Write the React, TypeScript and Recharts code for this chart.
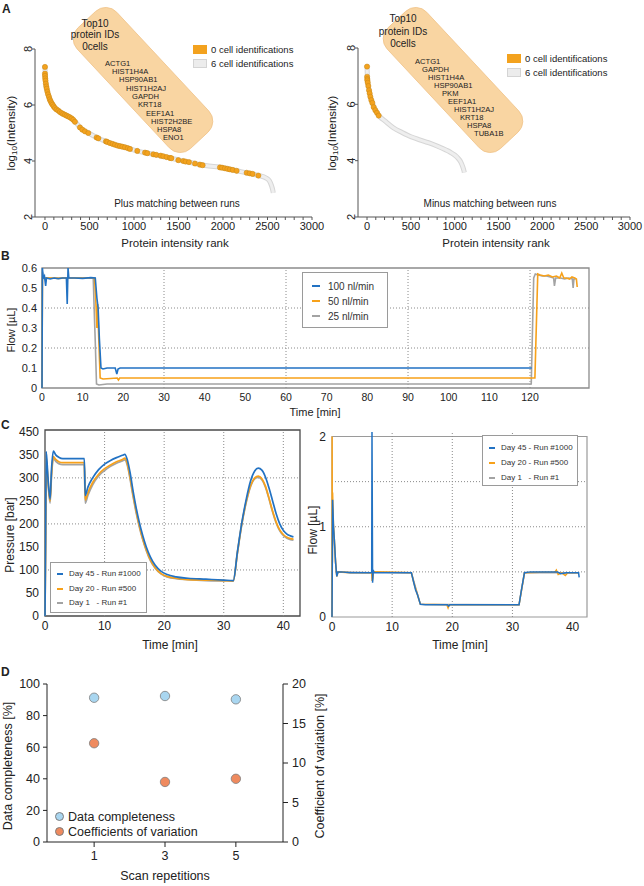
import React from "react";
import {
  ComposedChart,
  Line,
  Scatter,
  XAxis,
  YAxis,
  ReferenceLine,
  ReferenceArea,
  Legend,
} from "recharts";

const FONT = "'Liberation Sans', Arial, Helvetica, sans-serif";
const BLUE = "#2272c3";
const ORANGE = "#f7a11a";
const GREY = "#a3a3a3";
const SPOT = "#f3a21e";
const INK = "#222";

// ---- A: protein intensity rank ----
const rankTicks = [0, 500, 1000, 1500, 2000, 2500, 3000];
const rankMinorTicks = Array.from({ length: 31 }, (_, i) => i * 100);
const logTicks = [2, 4, 6, 8];
const legendA = ["0 cell identifications", "6 cell identifications"];

const plusCurve = [
  [0, 7.4], [3, 7.05], [10, 6.77], [30, 6.45], [60, 6.16], [100, 5.95], [150, 5.8],
  [200, 5.69], [260, 5.6], [300, 5.52], [340, 5.4], [400, 5.18], [490, 5.0], [580, 4.84],
  [700, 4.68], [800, 4.57], [900, 4.49], [1000, 4.39], [1200, 4.25], [1400, 4.11],
  [1600, 3.97], [1800, 3.84], [2000, 3.76], [2200, 3.62], [2400, 3.48], [2480, 3.4],
  [2520, 3.3], [2545, 3.12], [2560, 2.95], [2565, 2.86],
];
const plusDots = [
  [0, 7.36], [0, 7.12], [1, 7.04], [3, 6.95], [6, 6.87], [10, 6.76], [15, 6.66], [20, 6.58],
  [27, 6.48], [35, 6.38], [45, 6.29], [54, 6.2], [64, 6.13], [75, 6.06], [86, 6.01], [98, 5.95],
  [112, 5.89], [130, 5.84], [150, 5.8], [168, 5.75], [187, 5.71], [205, 5.68], [225, 5.65],
  [243, 5.62], [262, 5.59], [280, 5.56], [300, 5.52], [318, 5.47], [337, 5.4], [393, 5.2],
  [420, 5.12], [449, 5.06], [487, 5.0], [580, 4.84], [600, 4.81], [685, 4.7], [700, 4.68],
  [730, 4.64], [760, 4.61], [787, 4.58], [815, 4.55], [843, 4.53], [870, 4.51], [899, 4.49],
  [930, 4.46], [955, 4.43], [1037, 4.36], [1124, 4.3], [1150, 4.28], [1217, 4.24], [1250, 4.22],
  [1300, 4.19], [1330, 4.17], [1367, 4.14], [1404, 4.11], [1420, 4.1], [1498, 4.03], [1554, 4.0],
  [1580, 3.98], [1618, 3.96], [1685, 3.91], [1741, 3.87], [1771, 3.85], [1966, 3.77], [1990, 3.76],
  [2022, 3.74], [2050, 3.72], [2078, 3.7], [2110, 3.68], [2153, 3.65], [2266, 3.58], [2300, 3.56],
  [2333, 3.54], [2397, 3.48],
];
const minusCurve = [
  [0, 7.4], [5, 6.9], [20, 6.55], [50, 6.15], [100, 5.78], [150, 5.55], [200, 5.42], [300, 5.17],
  [400, 5.0], [500, 4.85], [600, 4.74], [700, 4.64], [800, 4.52], [900, 4.38], [950, 4.3],
  [1000, 4.2], [1040, 4.08], [1070, 3.95], [1090, 3.8], [1105, 3.65], [1110, 3.58],
];
const minusDots = [
  [0, 7.34], [1, 6.98], [3, 6.9], [4, 6.85], [8, 6.77], [15, 6.65], [23, 6.5], [30, 6.39],
  [38, 6.27], [49, 6.15], [61, 6.05], [76, 5.9], [95, 5.79], [114, 5.7], [133, 5.6],
];
const plusGenes = ["ACTG1", "HIST1H4A", "HSP90AB1", "HIST1H2AJ", "GAPDH", "KRT18", "EEF1A1", "HIST2H2BE", "HSPA8", "ENO1"];
const minusGenes = ["ACTG1", "GAPDH", "HIST1H4A", "HSP90AB1", "PKM", "EEF1A1", "HIST1H2AJ", "KRT18", "HSPA8", "TUBA1B"];

// ---- B: flow at three flow rates ----
const bNames = ["100 nl/min", "50 nl/min", "25 nl/min"];
const bTimeTicks = [0, 10, 20, 30, 40, 50, 60, 70, 80, 90, 100, 110, 120];
const bFlowTicks = [0, 0.1, 0.2, 0.3, 0.4, 0.5, 0.6];
const flow100 = [
  [0, 0], [0.1, 0.6], [0.3, 0.55], [0.6, 0.56], [0.9, 0.51], [1.1, 0.55], [2, 0.545], [3, 0.55],
  [4, 0.546], [5, 0.55], [6, 0.55], [6.2, 0.42], [6.4, 0.6], [6.6, 0.55], [8, 0.55], [10, 0.548],
  [12, 0.552], [13.1, 0.55], [13.5, 0.45], [13.8, 0.4], [14.1, 0.25], [14.5, 0.1], [15, 0.095],
  [16, 0.1], [18, 0.1], [18.4, 0.07], [18.7, 0.095], [19.2, 0.1], [30, 0.1], [60, 0.1], [90, 0.1],
  [120.4, 0.1],
];
const flow50 = [
  [0, 0], [0.1, 0.55], [0.5, 0.55], [2, 0.55], [4, 0.548], [6, 0.55], [8, 0.55], [10, 0.55],
  [12, 0.55], [12.9, 0.55], [13.2, 0.45], [13.5, 0.3], [13.7, 0.42], [13.9, 0.28], [14.3, 0.05],
  [15, 0.045], [18.5, 0.05], [18.8, 0.04], [19.1, 0.05], [30, 0.05], [60, 0.05], [90, 0.05],
  [121.2, 0.05], [121.9, 0.57], [122.5, 0.565], [123.5, 0.56], [124.5, 0.565], [125.5, 0.555],
  [126.5, 0.56], [127.3, 0.55], [127.8, 0.575], [128.3, 0.55], [129, 0.55], [129.7, 0.545],
  [130.3, 0.555], [131, 0.55], [131.4, 0.545], [131.6, 0.505],
];
const flow25 = [
  [0, 0], [0.1, 0.58], [0.4, 0.55], [3, 0.55], [6, 0.55], [10, 0.55], [12.6, 0.55], [12.9, 0.35],
  [13.1, 0.23], [13.4, 0.02], [14, 0.015], [16, 0.02], [30, 0.02], [60, 0.02], [90, 0.02],
  [120.3, 0.02], [120.9, 0.55], [121.3, 0.57], [122, 0.565], [123, 0.56], [124, 0.56],
  [125, 0.555], [125.8, 0.55], [126, 0.51], [126.3, 0.55], [127.5, 0.55], [128.5, 0.545],
  [129.5, 0.55], [130.4, 0.545], [130.6, 0.5], [130.8, 0.545], [131.2, 0.545],
];

// ---- C: pressure and flow over 1000 runs ----
const cNames = ["Day 45 - Run #1000", "Day 20 - Run #500", "Day 1   - Run #1"];
const cTimeTicks = [0, 10, 20, 30, 40];
const pressureTicks = [0, 50, 100, 150, 200, 250, 300, 350, 400];
const pressureTickLabels = ["0", "50", "100", "150", "200", "250", "300", "350", "450"];
const pressDay45 = [
  [0, 0], [0.1, 170], [0.2, 357], [0.5, 300], [0.85, 254], [1.1, 320], [1.4, 358], [1.8, 350],
  [2.3, 345], [3, 342], [5, 342], [6.6, 342], [6.75, 262], [7.2, 280], [8, 300], [9, 318],
  [10, 330], [11, 338], [12, 344], [13, 349], [13.4, 351], [13.8, 340], [14.3, 310], [14.8, 270],
  [15.3, 235], [15.8, 205], [16.4, 175], [17, 150], [17.7, 128], [18.5, 110], [19.5, 97],
  [20.5, 90], [22, 85], [24, 82], [27, 80], [30, 78], [31.6, 77], [32.3, 140], [33, 200],
  [33.8, 255], [34.5, 293], [35.2, 315], [35.8, 321], [36.4, 317], [37, 302], [37.6, 278],
  [38.2, 250], [38.8, 222], [39.4, 200], [40, 186], [40.6, 178], [41.2, 174], [41.7, 172],
];
const pressDay20 = [
  [0, 0], [0.1, 160], [0.2, 345], [0.5, 295], [0.85, 250], [1.1, 310], [1.4, 346], [1.8, 340],
  [2.3, 335], [3, 333], [5, 333], [6.6, 333], [6.75, 252], [7.2, 268], [8, 290], [9, 308],
  [10, 320], [11, 328], [12, 335], [13, 340], [13.4, 343], [13.8, 332], [14.3, 300], [14.8, 262],
  [15.3, 228], [15.8, 198], [16.4, 168], [17, 144], [17.7, 122], [18.5, 105], [19.5, 92],
  [20.5, 86], [22, 82], [24, 79], [27, 78], [30, 77], [31.6, 76], [32.3, 138], [33, 198],
  [33.8, 250], [34.5, 283], [35.2, 300], [35.8, 304], [36.4, 298], [37, 282], [37.6, 256],
  [38.2, 228], [38.8, 204], [39.4, 187], [40, 177], [40.6, 171], [41.2, 168], [41.7, 167],
];
const pressDay1 = [
  [0, 0], [0.1, 150], [0.2, 340], [0.5, 290], [0.85, 245], [1.1, 305], [1.4, 342], [1.8, 336],
  [2.3, 331], [3, 329], [5, 329], [6.6, 329], [6.75, 245], [7.2, 262], [8, 285], [9, 304],
  [10, 316], [11, 325], [12, 332], [13, 337], [13.4, 339], [13.8, 328], [14.3, 296], [14.8, 258],
  [15.3, 224], [15.8, 195], [16.4, 166], [17, 142], [17.7, 120], [18.5, 104], [19.5, 91],
  [20.5, 85], [22, 81], [24, 79], [27, 77], [30, 76], [31.6, 76], [32.3, 137], [33, 196],
  [33.8, 248], [34.5, 281], [35.2, 298], [35.8, 301], [36.4, 296], [37, 280], [37.6, 254],
  [38.2, 226], [38.8, 202], [39.4, 185], [40, 175], [40.6, 169], [41.2, 166], [41.7, 165],
];
const flowDay45 = [
  [0, 0], [0.05, 0.6], [0.1, 1.3], [0.25, 1.0], [0.4, 0.85], [0.6, 0.6], [0.8, 0.45], [1.0, 0.5],
  [1.5, 0.5], [3, 0.49], [5, 0.49], [6.6, 0.49], [6.65, 2.05], [6.75, 0.38], [6.85, 0.52],
  [7, 0.49], [10, 0.49], [13.2, 0.49], [13.6, 0.38], [13.9, 0.3], [14.2, 0.25], [14.7, 0.14],
  [15.5, 0.135], [19.2, 0.135], [19.4, 0.12], [19.6, 0.135], [25, 0.135], [31.1, 0.135],
  [31.5, 0.3], [32, 0.49], [33, 0.5], [35, 0.5], [37.5, 0.5], [38, 0.48], [39, 0.49], [40, 0.49],
  [41, 0.49], [41.1, 0.44],
];
const flowDay20 = [
  [0, 0], [0.02, 2.0], [0.06, 0.6], [0.1, 1.38], [0.25, 1.0], [0.4, 0.85], [0.6, 0.6], [0.8, 0.45],
  [1.0, 0.5], [3, 0.49], [6.6, 0.49], [6.7, 0.4], [6.9, 0.5], [13.2, 0.49], [13.6, 0.38],
  [14.2, 0.25], [14.7, 0.14], [19.1, 0.135], [19.3, 0.1], [19.5, 0.135], [31.1, 0.135],
  [32, 0.49], [37.1, 0.5], [37.3, 0.52], [37.6, 0.47], [38.2, 0.49], [38.8, 0.46], [39.2, 0.49],
  [41, 0.49],
];
const flowDay1 = [
  [0, 0], [0.1, 1.2], [0.3, 0.9], [0.6, 0.6], [0.8, 0.45], [1, 0.5], [6.6, 0.49], [6.7, 0.4],
  [6.9, 0.5], [13.2, 0.49], [14.7, 0.14], [31.1, 0.135], [32, 0.49], [41, 0.49],
];

// ---- D: scan repetitions ----
const scanReps = [1, 3, 5];
const completeness = [91.3, 92.4, 90.3];
const cvPercent = [12.5, 7.6, 8.0];
const dNames = ["Data completeness", "Coefficients of variation"];

const pairs = (arr: number[][]) => arr.map(([x, y]) => ({ x, y }));
const tickStyle = (size: number) => ({ fontSize: size, fill: INK, fontFamily: FONT });

const RotTick = (props: any) => {
  const { x, y, payload } = props;
  return (
    <text x={x} y={y} transform={`rotate(-90 ${x} ${y})`} textAnchor="middle" fontSize={11} fill={INK} fontFamily={FONT}>
      {payload.value}
    </text>
  );
};

const squareKey = () => (
  <div style={{ fontFamily: FONT, fontSize: 9.5, color: INK, whiteSpace: "nowrap" }}>
    {legendA.map((name, i) => (
      <div key={name} style={{ display: "flex", alignItems: "center", height: 14 }}>
        <span
          style={{
            width: 14, height: 9, marginRight: 4, boxSizing: "border-box",
            background: i === 0 ? SPOT : "#ececec", border: i === 0 ? "none" : "1px solid #d4d4d4",
          }}
        />
        {name}
      </div>
    ))}
  </div>
);

function LineKey({ names, colors, w, h, font, rowH, padT, markL, markW, textL }: any) {
  return (
    <div
      style={{
        width: w, height: h, boxSizing: "border-box", border: "1px solid #9a9a9a", background: "#fff",
        paddingTop: padT, fontFamily: FONT, fontSize: font, color: "#333",
      }}
    >
      {names.map((n: string, i: number) => (
        <div key={n} style={{ position: "relative", height: rowH, lineHeight: rowH + "px", whiteSpace: "pre" }}>
          <span style={{ position: "absolute", left: markL, top: rowH / 2 - 1, width: markW, height: 2, background: colors[i] }} />
          <span style={{ position: "absolute", left: textL }}>{n}</span>
        </div>
      ))}
    </div>
  );
}

function RankPanel({ left, width, margin, xDomain, curve, dots, keyPos }: any) {
  return (
    <div style={{ position: "absolute", left, top: 0 }}>
      <ComposedChart width={width} height={260} margin={margin}>
        <XAxis
          type="number" dataKey="x" domain={xDomain} ticks={rankMinorTicks} interval={0}
          tickFormatter={(v: number) => (rankTicks.includes(v) ? String(v) : "")}
          tickSize={3} tick={tickStyle(11)} stroke="#555" height={30} allowDataOverflow
        />
        <YAxis
          type="number" dataKey="y" domain={[2, 8]} ticks={logTicks} interval={0}
          tick={(p: any) => <RotTick {...p} />} tickSize={3} tickMargin={0} width={20} stroke="#555"
        />
        <Line data={pairs(curve)} dataKey="y" type="monotone" stroke="#d6d6d6" strokeWidth={5} dot={false} isAnimationActive={false} />
        <Line data={pairs(curve)} dataKey="y" type="monotone" stroke="#eeeeee" strokeWidth={3} dot={false} isAnimationActive={false} />
        <Scatter
          data={pairs(dots)} fill={SPOT} isAnimationActive={false}
          shape={(p: any) => <circle cx={p.cx} cy={p.cy} r={2.6} fill={SPOT} stroke="#c98612" strokeWidth={0.5} />}
        />
        <Legend verticalAlign="middle" align="center" layout="horizontal" content={squareKey} wrapperStyle={{ left: keyPos[0], top: keyPos[1], width: "auto" }} />
      </ComposedChart>
    </div>
  );
}

function FlowPanelB() {
  const series = [flow25, flow50, flow100];
  const colors = [GREY, ORANGE, BLUE];
  return (
    <div style={{ position: "absolute", left: 0, top: 250 }}>
      <ComposedChart width={644} height={180} margin={{ top: 18, right: 55, left: 12, bottom: 22 }}>
        <XAxis type="number" dataKey="x" domain={[0, 134.5]} ticks={bTimeTicks} interval={0} tickLine={false} axisLine={false} tickSize={4} tickMargin={2} tick={tickStyle(10.5)} height={20} />
        <YAxis
          type="number" dataKey="y" domain={[0, 0.6]} ticks={bFlowTicks} interval={0} tickLine={false} axisLine={false}
          tickFormatter={(v: number) => (v === 0 ? "0" : v.toFixed(1))} tickSize={3} tickMargin={2} tick={tickStyle(11)} width={30}
        />
        {[30, 60, 90, 120].map((v) => <ReferenceLine key={"x" + v} x={v} stroke="#8a8a8a" strokeDasharray="1 2" />)}
        {[0.2, 0.4].map((v) => <ReferenceLine key={"y" + v} y={v} stroke="#8a8a8a" strokeDasharray="1 2" />)}
        <ReferenceArea x1={0} x2={134.5} y1={0} y2={0.6} fill="none" stroke="#8c8c8c" strokeWidth={1.3} />
        {series.map((s, i) => (
          <Line key={i} data={pairs(s)} dataKey="y" type="linear" stroke={colors[i]} strokeWidth={1.6} dot={false} isAnimationActive={false} />
        ))}
        <Legend
          verticalAlign="middle" align="center" layout="horizontal" wrapperStyle={{ left: 302, top: 22, width: "auto" }}
          content={() => <LineKey names={bNames} colors={[BLUE, ORANGE, GREY]} w={86} h={56} font={10} rowH={15} padT={5.5} markL={9} markW={8} textL={25} />}
        />
      </ComposedChart>
    </div>
  );
}

function PressurePanel() {
  const series = [pressDay1, pressDay20, pressDay45];
  const colors = [GREY, ORANGE, BLUE];
  return (
    <div style={{ position: "absolute", left: 0, top: 420 }}>
      <ComposedChart width={330} height={240} margin={{ top: 10, right: 30, left: 15, bottom: 24 }}>
        <XAxis type="number" dataKey="x" domain={[0, 42.8]} ticks={cTimeTicks} interval={0} tickLine={false} axisLine={false} tickSize={3} tickMargin={2} tick={tickStyle(12)} height={20} />
        <YAxis
          type="number" dataKey="y" domain={[0, 404]} ticks={pressureTicks} interval={0} tickLine={false} axisLine={false}
          tickFormatter={(v: number) => pressureTickLabels[pressureTicks.indexOf(v)]} tickSize={3} tickMargin={3} tick={tickStyle(12)} width={30}
        />
        {[10, 20, 30, 40].map((v) => <ReferenceLine key={"x" + v} x={v} stroke="#8a8a8a" strokeDasharray="1 2" />)}
        {[100, 200, 300].map((v) => <ReferenceLine key={"y" + v} y={v} stroke="#8a8a8a" strokeDasharray="1 2" />)}
        <ReferenceArea x1={0} x2={42.8} y1={0} y2={404} fill="none" stroke="#4a4a4a" strokeWidth={1.3} />
        {series.map((s, i) => (
          <Line key={i} data={pairs(s)} dataKey="y" type="monotone" stroke={colors[i]} strokeWidth={1.7} dot={false} isAnimationActive={false} />
        ))}
        <Legend
          verticalAlign="middle" align="center" layout="horizontal" wrapperStyle={{ left: 50, top: 142, width: "auto" }}
          content={() => <LineKey names={cNames} colors={[BLUE, ORANGE, GREY]} w={97} h={51} font={8} rowH={14.5} padT={4} markL={6} markW={6} textL={18} />}
        />
      </ComposedChart>
    </div>
  );
}

function FlowPanelC() {
  const series = [flowDay1, flowDay20, flowDay45];
  const colors = [GREY, ORANGE, BLUE];
  return (
    <div style={{ position: "absolute", left: 300, top: 420 }}>
      <ComposedChart width={344} height={240} margin={{ top: 12, right: 57, left: 12, bottom: 23 }}>
        <XAxis type="number" dataKey="x" domain={[0, 42.4]} ticks={cTimeTicks} interval={0} tickLine={false} axisLine={false} tickSize={3} tickMargin={2} tick={tickStyle(12)} height={20} />
        <YAxis type="number" dataKey="y" domain={[0, 2]} ticks={[0, 1, 2]} interval={0} tickLine={false} axisLine={false} tickSize={3} tickMargin={3} tick={tickStyle(12)} width={20} />
        {[10, 20, 30].map((v) => <ReferenceLine key={"x" + v} x={v} stroke="#8a8a8a" strokeDasharray="1 2" />)}
        {[0.5, 1, 1.5].map((v) => <ReferenceLine key={"y" + v} y={v} stroke="#8a8a8a" strokeDasharray="1 2" />)}
        <ReferenceArea x1={0} x2={42.4} y1={0} y2={2} fill="none" stroke="#9a9a9a" strokeWidth={1.2} />
        {series.map((s, i) => (
          <Line key={i} data={pairs(s)} dataKey="y" type="linear" stroke={colors[i]} strokeWidth={1.5} dot={false} isAnimationActive={false} />
        ))}
        <Legend
          verticalAlign="middle" align="center" layout="horizontal" wrapperStyle={{ left: 182, top: 15, width: "auto" }}
          content={() => <LineKey names={cNames} colors={[BLUE, ORANGE, GREY]} w={96} h={51} font={8} rowH={15} padT={4} markL={6} markW={6} textL={18} />}
        />
      </ComposedChart>
    </div>
  );
}

function ScanPanel() {
  const comp = scanReps.map((x, i) => ({ x, y: completeness[i] }));
  const cv = scanReps.map((x, i) => ({ x, y: cvPercent[i] }));
  const dot = (fill: string) => (p: any) => <circle cx={p.cx} cy={p.cy} r={4.7} fill={fill} stroke="#7d7d7d" strokeWidth={0.8} />;
  return (
    <div style={{ position: "absolute", left: 0, top: 660 }}>
      <ComposedChart width={340} height={226} margin={{ top: 24, right: 27, left: 12, bottom: 19 }}>
        <XAxis type="number" dataKey="x" domain={[-0.33, 6.33]} ticks={scanReps} interval={0} tickSize={5} tickMargin={4} tick={tickStyle(12.5)} stroke="#222" height={25} />
        <YAxis yAxisId="l" type="number" dataKey="y" domain={[0, 100]} ticks={[0, 20, 40, 60, 80, 100]} interval={0} tickSize={4} tickMargin={3} tick={tickStyle(12.5)} stroke="#222" width={35} />
        <YAxis yAxisId="r" orientation="right" type="number" dataKey="y" domain={[0, 20]} ticks={[0, 5, 10, 15, 20]} interval={0} tickSize={5} tickMargin={4} tick={tickStyle(12.5)} stroke="#222" width={30} />
        <Scatter yAxisId="l" data={comp} fill="#a9d6f0" shape={dot("#a9d6f0")} isAnimationActive={false} />
        <Scatter yAxisId="r" data={cv} fill="#ef8a5e" shape={dot("#ef8a5e")} isAnimationActive={false} />
        <Legend
          verticalAlign="middle" align="center" layout="horizontal" wrapperStyle={{ left: 55, top: 149, width: "auto" }}
          content={() => (
            <div style={{ fontFamily: FONT, fontSize: 12.5, color: INK, whiteSpace: "nowrap" }}>
              {dNames.map((n, i) => (
                <div key={n} style={{ display: "flex", alignItems: "center", height: 15 }}>
                  <span style={{ width: 9, height: 9, borderRadius: 5, boxSizing: "border-box", border: "0.8px solid #7d7d7d", background: i === 0 ? "#a9d6f0" : "#ef8a5e", marginRight: 4 }} />
                  {n}
                </div>
              ))}
            </div>
          )}
        />
      </ComposedChart>
    </div>
  );
}

function Bubble({ cx, title, genes, titleX, titleY, geneX, geneY }: any) {
  return (
    <g>
      <rect x={-82.5} y={-27} width={165} height={54} rx={15} transform={`translate(${cx} 80) rotate(47)`} fill="#f9d5a2" stroke="#f0c38a" strokeWidth={0.8} />
      {title.map((t: string, i: number) => (
        <text key={t} x={titleX} y={titleY[i]} textAnchor="middle" dominantBaseline="central" fontSize={10} fill={INK}>{t}</text>
      ))}
      {genes.map((g: string, i: number) => (
        <text key={g} x={geneX[i]} y={geneY[i]} dominantBaseline="central" fontSize={7.6} fill={INK}>{g}</text>
      ))}
    </g>
  );
}

const T = ({ x, y, size, rot, weight, anchor, children }: any) => (
  <text
    x={x} y={y} fontSize={size} textAnchor={anchor || "middle"} dominantBaseline="central" fontWeight={weight}
    transform={rot ? `rotate(${rot} ${x} ${y})` : undefined} fill={INK}
  >
    {children}
  </text>
);

const LogLabel = ({ x, y }: any) => (
  <text x={x} y={y} fontSize={11.5} textAnchor="middle" dominantBaseline="central" transform={`rotate(-90 ${x} ${y})`} fill={INK}>
    log<tspan fontSize={8} dy={3}>10</tspan><tspan dy={-3}>(Intensity)</tspan>
  </text>
);

export default function App() {
  const title = ["Top10", "protein IDs", "0cells"];
  return (
    <div style={{ position: "absolute", left: 0, top: 0, width: 644, height: 886, background: "#fff", fontFamily: FONT, overflow: "hidden" }}>
      <RankPanel left={0} width={330} margin={{ top: 49, right: 18, bottom: 13, left: 15 }} xDomain={[-112, 3000]} curve={plusCurve} dots={plusDots} keyPos={[193, 42]} />
      <RankPanel left={310} width={334} margin={{ top: 48, right: 14, bottom: 13, left: 28 }} xDomain={[-103, 3000]} curve={minusCurve} dots={minusDots} keyPos={[197, 51]} />
      <FlowPanelB />
      <PressurePanel />
      <FlowPanelC />
      <ScanPanel />
      <svg width={644} height={886} style={{ position: "absolute", left: 0, top: 0, pointerEvents: "none", fontFamily: FONT }}>
        <Bubble
          cx={143} title={title} genes={plusGenes} titleX={95} titleY={[23, 34, 46]}
          geneX={[105, 112, 119, 126, 132, 138, 146, 151, 157, 163]} geneY={[63, 71, 79, 88, 96, 104, 113, 121, 129, 137]}
        />
        <Bubble
          cx={453} title={title} genes={minusGenes} titleX={403} titleY={[18, 31, 43]}
          geneX={[415, 422, 428, 434, 442, 448, 454, 460, 467, 474]} geneY={[61, 69, 77, 85, 93, 101, 109, 117, 125, 133]}
        />
        <T x={2} y={9} size={12} weight="bold" anchor="start">A</T>
        <T x={1} y={256} size={12} weight="bold" anchor="start">B</T>
        <T x={1} y={425} size={12} weight="bold" anchor="start">C</T>
        <T x={1} y={672} size={12} weight="bold" anchor="start">D</T>
        <LogLabel x={11} y={133} />
        <LogLabel x={332} y={133} />
        <T x={177} y={203} size={10}>Plus matching between runs</T>
        <T x={490} y={203} size={10}>Minus matching between runs</T>
        <T x={175} y={243} size={11.5}>Protein intensity rank</T>
        <T x={496} y={243} size={11.5}>Protein intensity rank</T>
        <T x={11} y={330} size={11} rot={-90}>Flow [µL]</T>
        <T x={315} y={412} size={11}>Time [min]</T>
        <T x={10} y={535} size={12} rot={-90}>Pressure [bar]</T>
        <T x={170} y={645} size={12}>Time [min]</T>
        <T x={313} y={530} size={12} rot={-90}>Flow [µL]</T>
        <T x={460} y={645} size={12}>Time [min]</T>
        <T x={8} y={766} size={12.5} rot={-90}>Data completeness [%]</T>
        <T x={320} y={766} size={12.5} rot={-90}>Coefficient of variation [%]</T>
        <T x={165} y={876} size={12.5}>Scan repetitions</T>
      </svg>
    </div>
  );
}
